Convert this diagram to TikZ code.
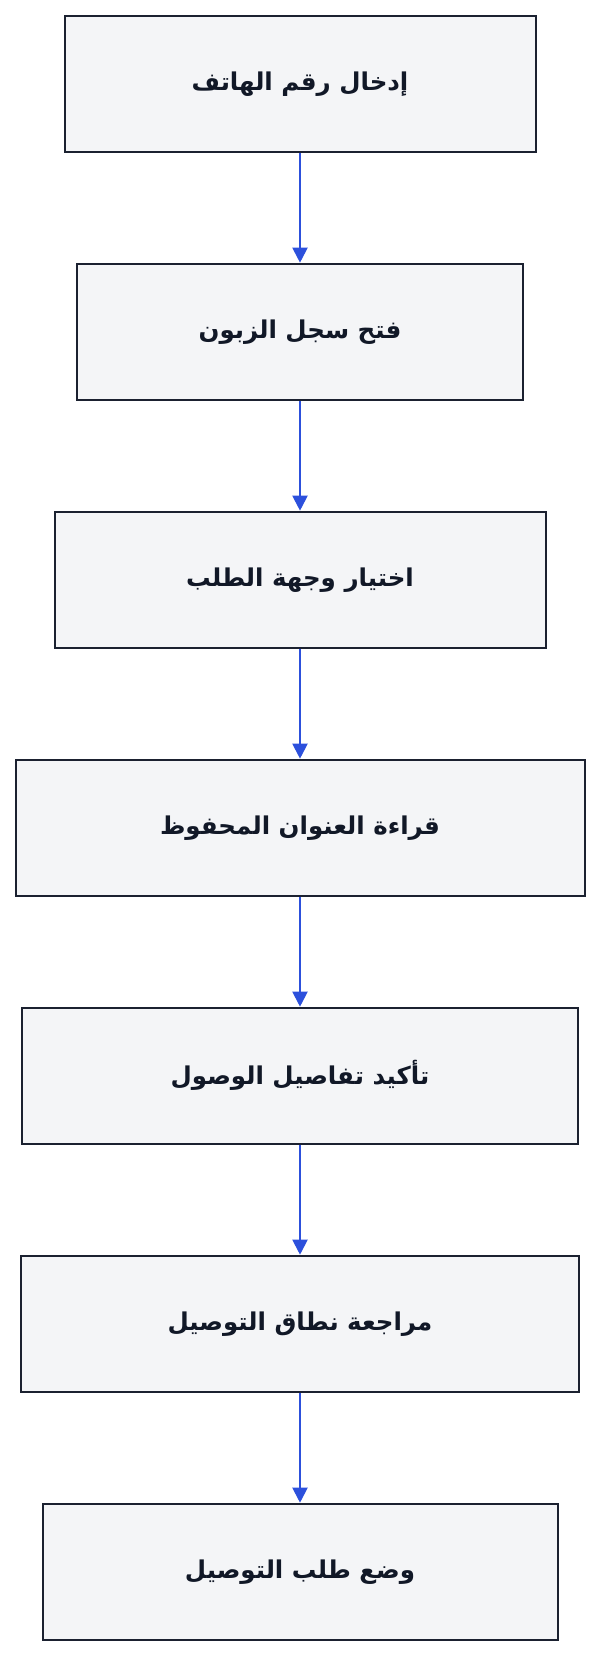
\documentclass[tikz,border=0pt]{standalone}
\usepackage{fontspec}
\TeXXeTstate=1
\newfontfamily\arabicfont[Script=Arabic]{DejaVu Sans}
\usetikzlibrary{arrows.meta}
\definecolor{boxfill}{HTML}{F4F5F7}
\definecolor{boxline}{HTML}{1B2130}
\definecolor{textdark}{HTML}{111827}
\definecolor{arrowblue}{HTML}{2C50DC}
\tikzset{
  stepbox/.style={rectangle, draw=boxline, fill=boxfill, line width=2pt,
    minimum height=136pt, inner sep=0pt, text=textdark,
    font=\arabicfont\bfseries\fontsize{24.5}{29}\selectfont},
  flow/.style={draw=arrowblue, line width=2pt,
    -{Triangle[width=15pt,length=15pt]}}
}
\begin{document}
\begin{tikzpicture}[x=1pt,y=-1pt]
\useasboundingbox (0,0) rectangle (600,1656);
\node[stepbox, minimum width=471pt] (b1) at (300,83.7) {\beginR إدخال رقم الهاتف\endR};
\node[stepbox, minimum width=446pt] (b2) at (300,331.7) {\beginR فتح سجل الزبون\endR};
\node[stepbox, minimum width=491pt] (b3) at (300,579.7) {\beginR اختيار وجهة الطلب\endR};
\node[stepbox, minimum width=569pt] (b4) at (300,827.7) {\beginR قراءة العنوان المحفوظ\endR};
\node[stepbox, minimum width=556pt] (b5) at (300,1075.7) {\beginR تأكيد تفاصيل الوصول\endR};
\node[stepbox, minimum width=558pt] (b6) at (300,1323.7) {\beginR مراجعة نطاق التوصيل\endR};
\node[stepbox, minimum width=515pt] (b7) at (300,1571.7) {\beginR وضع طلب التوصيل\endR};
\draw[flow] (b1.south) -- (b2.north);
\draw[flow] (b2.south) -- (b3.north);
\draw[flow] (b3.south) -- (b4.north);
\draw[flow] (b4.south) -- (b5.north);
\draw[flow] (b5.south) -- (b6.north);
\draw[flow] (b6.south) -- (b7.north);
\end{tikzpicture}
\end{document}
